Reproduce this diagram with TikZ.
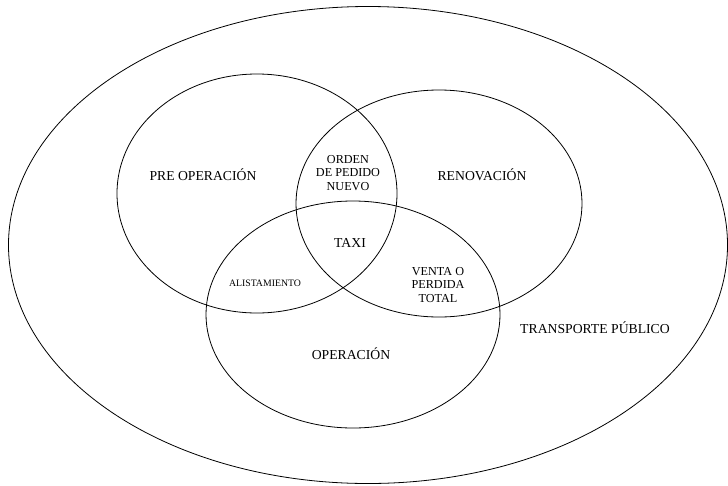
\documentclass[tikz,border=0pt]{standalone}
\usepackage{fontspec}
\setmainfont{Liberation Serif}
\usetikzlibrary{shapes.geometric}

\begin{document}
\begin{tikzpicture}[x=1pt, y=-1pt, line width=0.8pt,
  set/.style={draw, ellipse, inner sep=0pt},
  big/.style={font=\fontsize{13.7}{15}\selectfont},
  mid/.style={font=\fontsize{12.2}{13.5}\selectfont, align=center},
  small/.style={font=\fontsize{9.8}{12}\selectfont}]

\useasboundingbox (0,0) rectangle (728,485);

\node[set, minimum width=719, minimum height=477] (transporte) at (368, 245) {};
\node[set, minimum width=280, minimum height=239] (pre) at (257, 193.5) {};
\node[set, minimum width=286, minimum height=227] (renov) at (439, 203.5) {};
\node[set, minimum width=294, minimum height=227] (oper) at (353, 314.5) {};

\node[big] (t0) at (203, 175) {PRE OPERACIÓN};
\node[big] (t1) at (482, 175) {RENOVACIÓN};
\node[big] (t2) at (351, 354) {OPERACIÓN};
\node[big] (t3) at (350, 243) {TAXI};
\node[big] (t4) at (595, 328) {TRANSPORTE PÚBLICO};
\node[mid] (t5) at (348, 173) {ORDEN\\DE PEDIDO\\NUEVO};
\node[mid] (t6) at (438, 285) {VENTA O\\PERDIDA\\TOTAL};
\node[small] (t7) at (265, 283) {ALISTAMIENTO};
\end{tikzpicture}
\end{document}
